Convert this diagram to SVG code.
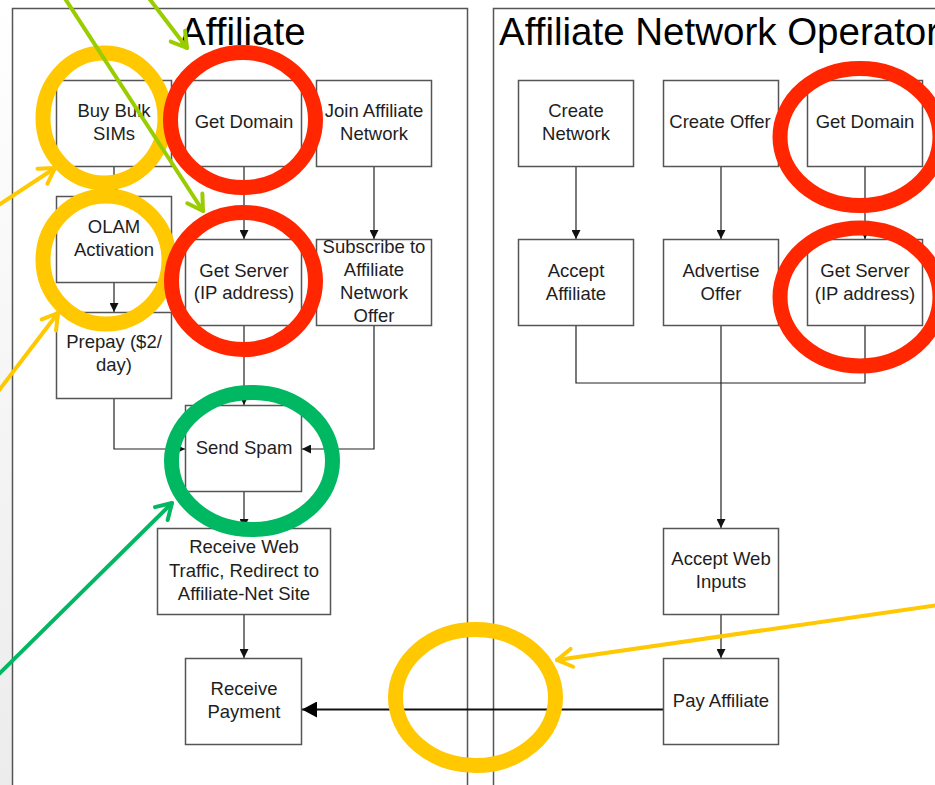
<svg xmlns="http://www.w3.org/2000/svg" width="935" height="785" viewBox="0 0 935 785">
<style>
.box{fill:#fff;stroke:#555;stroke-width:1.5}
.pane{fill:#fff;stroke:#555;stroke-width:1.5}
.t{font-family:"Liberation Sans",Arial,sans-serif;font-size:18.5px;fill:#1e1e1e;text-anchor:middle}
.title{font-family:"Liberation Sans",Arial,sans-serif;font-size:38.5px;fill:#000}
.c{fill:none;stroke:#222;stroke-width:1.2}
.ring{fill:none;stroke-width:15}
.ann{fill:none;stroke-width:4;stroke-linecap:round}
</style>
<defs>
<linearGradient id="bg" x1="0" y1="0" x2="0" y2="1">
<stop offset="0" stop-color="#ffffff"/>
<stop offset="1" stop-color="#ececec"/>
</linearGradient>
<marker id="ah" markerUnits="userSpaceOnUse" markerWidth="9" markerHeight="9" viewBox="0 0 9 9" refX="9" refY="4.5" orient="auto">
<path d="M0,0 L9,4.5 L0,9 z" fill="#111"/>
</marker>
<marker id="ahb" markerUnits="userSpaceOnUse" markerWidth="15" markerHeight="16" viewBox="0 0 15 16" refX="15" refY="8" orient="auto">
<path d="M0,0 L15,8 L0,16 z" fill="#000"/>
</marker>
<marker id="mLime" markerUnits="userSpaceOnUse" markerWidth="30" markerHeight="30" viewBox="-22 -15 30 30" refX="0" refY="0" orient="auto">
<path d="M-15,-9 L0,0 L-15,9" fill="none" stroke="#9ACD00" stroke-width="4" stroke-linecap="round" stroke-linejoin="round"/>
</marker>
<marker id="mYel" markerUnits="userSpaceOnUse" markerWidth="30" markerHeight="30" viewBox="-22 -15 30 30" refX="0" refY="0" orient="auto">
<path d="M-15,-9 L0,0 L-15,9" fill="none" stroke="#FFC800" stroke-width="4" stroke-linecap="round" stroke-linejoin="round"/>
</marker>
<marker id="mGrn" markerUnits="userSpaceOnUse" markerWidth="30" markerHeight="30" viewBox="-22 -15 30 30" refX="0" refY="0" orient="auto">
<path d="M-15,-9 L0,0 L-15,9" fill="none" stroke="#00B862" stroke-width="4" stroke-linecap="round" stroke-linejoin="round"/>
</marker>
</defs>
<rect x="0" y="0" width="935" height="785" fill="#fff"/>
<rect x="0" y="0" width="13" height="785" fill="url(#bg)"/>

<g id="pane-affiliate">
<rect class="pane" x="12.5" y="8.5" width="455" height="790"/>
<text class="title" x="180" y="45">Affiliate</text>
</g>
<g id="pane-operator">
<rect class="pane" x="493.5" y="8.5" width="460" height="790"/>
<text class="title" x="499" y="45">Affiliate Network Operator</text>
</g>

<g id="connectors">
<line class="c" x1="114" y1="167" x2="114" y2="196" marker-end="url(#ah)"/>
<line class="c" x1="114" y1="282" x2="114" y2="312" marker-end="url(#ah)"/>
<line class="c" x1="244" y1="167" x2="244" y2="239" marker-end="url(#ah)"/>
<line class="c" x1="374" y1="167" x2="374" y2="239" marker-end="url(#ah)"/>
<line class="c" x1="244" y1="326" x2="244" y2="405" marker-end="url(#ah)"/>
<polyline class="c" points="114,398 114,449 185,449" marker-end="url(#ah)"/>
<polyline class="c" points="374,326 374,449 302,449" marker-end="url(#ah)"/>
<line class="c" x1="244" y1="492" x2="244" y2="528" marker-end="url(#ah)"/>
<line class="c" x1="244" y1="615" x2="244" y2="658" marker-end="url(#ah)"/>
<line x1="668" y1="709.5" x2="302" y2="709.5" stroke="#111" stroke-width="2" marker-end="url(#ahb)"/>
<line class="c" x1="576" y1="167" x2="576" y2="239" marker-end="url(#ah)"/>
<line class="c" x1="721" y1="167" x2="721" y2="239" marker-end="url(#ah)"/>
<line class="c" x1="865" y1="167" x2="865" y2="239" marker-end="url(#ah)"/>
<polyline class="c" points="576,326 576,383 865,383 865,326"/>
<line class="c" x1="721" y1="326" x2="721" y2="383"/>
<line class="c" x1="721" y1="383" x2="721" y2="528" marker-end="url(#ah)"/>
<line class="c" x1="721" y1="615" x2="721" y2="658" marker-end="url(#ah)"/>
</g>

<g id="buy-bulk-sims"><rect class="box" x="56.5" y="80.5" width="115" height="86"/><text class="t" x="114" y="117">Buy Bulk</text><text class="t" x="114" y="140">SIMs</text></g>
<g id="get-domain"><rect class="box" x="185.5" y="80.5" width="116" height="86"/><text class="t" x="244" y="128">Get Domain</text></g>
<g id="join-affiliate-network"><rect class="box" x="316.5" y="80.5" width="115" height="86"/><text class="t" x="374" y="117">Join Affiliate</text><text class="t" x="374" y="140">Network</text></g>
<g id="olam-activation"><rect class="box" x="56.5" y="196.5" width="115" height="86"/><text class="t" x="114" y="233">OLAM</text><text class="t" x="114" y="256">Activation</text></g>
<g id="get-server"><rect class="box" x="185.5" y="239.5" width="116" height="86"/><text class="t" x="244" y="277">Get Server</text><text class="t" x="244" y="299">(IP address)</text></g>
<g id="subscribe-offer"><rect class="box" x="316.5" y="239.5" width="115" height="86"/><text class="t" x="374" y="253">Subscribe to</text><text class="t" x="374" y="276">Affiliate</text><text class="t" x="374" y="299">Network</text><text class="t" x="374" y="322">Offer</text></g>
<g id="prepay"><rect class="box" x="56.5" y="312.5" width="115" height="86"/><text class="t" x="114" y="348">Prepay ($2/</text><text class="t" x="114" y="371">day)</text></g>
<g id="send-spam"><rect class="box" x="185.5" y="405.5" width="116" height="86"/><text class="t" x="244" y="454">Send Spam</text></g>
<g id="receive-web-traffic"><rect class="box" x="157.5" y="528.5" width="173" height="86"/><text class="t" x="244" y="553">Receive Web</text><text class="t" x="244" y="577">Traffic, Redirect to</text><text class="t" x="244" y="600">Affiliate-Net Site</text></g>
<g id="receive-payment"><rect class="box" x="185.5" y="658.5" width="116" height="86"/><text class="t" x="244" y="695">Receive</text><text class="t" x="244" y="718">Payment</text></g>

<g id="create-network"><rect class="box" x="518.5" y="80.5" width="115" height="86"/><text class="t" x="576" y="117">Create</text><text class="t" x="576" y="140">Network</text></g>
<g id="create-offer"><rect class="box" x="663.5" y="80.5" width="115" height="86"/><text class="t" x="720" y="128">Create Offer</text></g>
<g id="op-get-domain"><rect class="box" x="807.5" y="80.5" width="115" height="86"/><text class="t" x="865" y="128">Get Domain</text></g>
<g id="accept-affiliate"><rect class="box" x="518.5" y="239.5" width="115" height="86"/><text class="t" x="576" y="277">Accept</text><text class="t" x="576" y="300">Affiliate</text></g>
<g id="advertise-offer"><rect class="box" x="663.5" y="239.5" width="115" height="86"/><text class="t" x="721" y="277">Advertise</text><text class="t" x="721" y="300">Offer</text></g>
<g id="op-get-server"><rect class="box" x="807.5" y="239.5" width="115" height="86"/><text class="t" x="865" y="277">Get Server</text><text class="t" x="865" y="300">(IP address)</text></g>
<g id="accept-web-inputs"><rect class="box" x="663.5" y="528.5" width="115" height="86"/><text class="t" x="721" y="565">Accept Web</text><text class="t" x="721" y="588">Inputs</text></g>
<g id="pay-affiliate"><rect class="box" x="663.5" y="658.5" width="115" height="86"/><text class="t" x="721" y="707">Pay Affiliate</text></g>

<g id="annotations">
<ellipse class="ring" stroke="#FFC800" cx="104" cy="118" rx="61" ry="65"/>
<ellipse class="ring" stroke="#FFC800" cx="106" cy="260" rx="63" ry="64"/>
<ellipse class="ring" stroke="#FF2600" cx="243" cy="120" rx="72.5" ry="67.5"/>
<ellipse class="ring" stroke="#FF2600" cx="243.5" cy="281" rx="72" ry="68.5"/>
<ellipse class="ring" stroke="#FF2600" cx="860" cy="137" rx="80" ry="68.5"/>
<ellipse class="ring" stroke="#FF2600" cx="860" cy="297" rx="80" ry="69"/>
<ellipse class="ring" stroke="#00B862" cx="252" cy="461" rx="80.5" ry="68.5"/>
<ellipse class="ring" stroke="#FFC800" cx="475.5" cy="697.5" rx="80" ry="68"/>
<line class="ann" stroke="#9ACD00" x1="148" y1="-3" x2="187" y2="48" marker-end="url(#mLime)"/>
<line class="ann" stroke="#9ACD00" x1="64" y1="-3" x2="203" y2="211" marker-end="url(#mLime)"/>
<line class="ann" stroke="#FFC800" x1="-3" y1="206" x2="55" y2="168" marker-end="url(#mYel)"/>
<line class="ann" stroke="#FFC800" x1="-3" y1="393" x2="58" y2="313" marker-end="url(#mYel)"/>
<line class="ann" stroke="#FFC800" x1="938" y1="605" x2="557" y2="660" marker-end="url(#mYel)"/>
<line class="ann" stroke="#00B862" x1="-3" y1="676" x2="172" y2="503" marker-end="url(#mGrn)"/>
</g>
</svg>
